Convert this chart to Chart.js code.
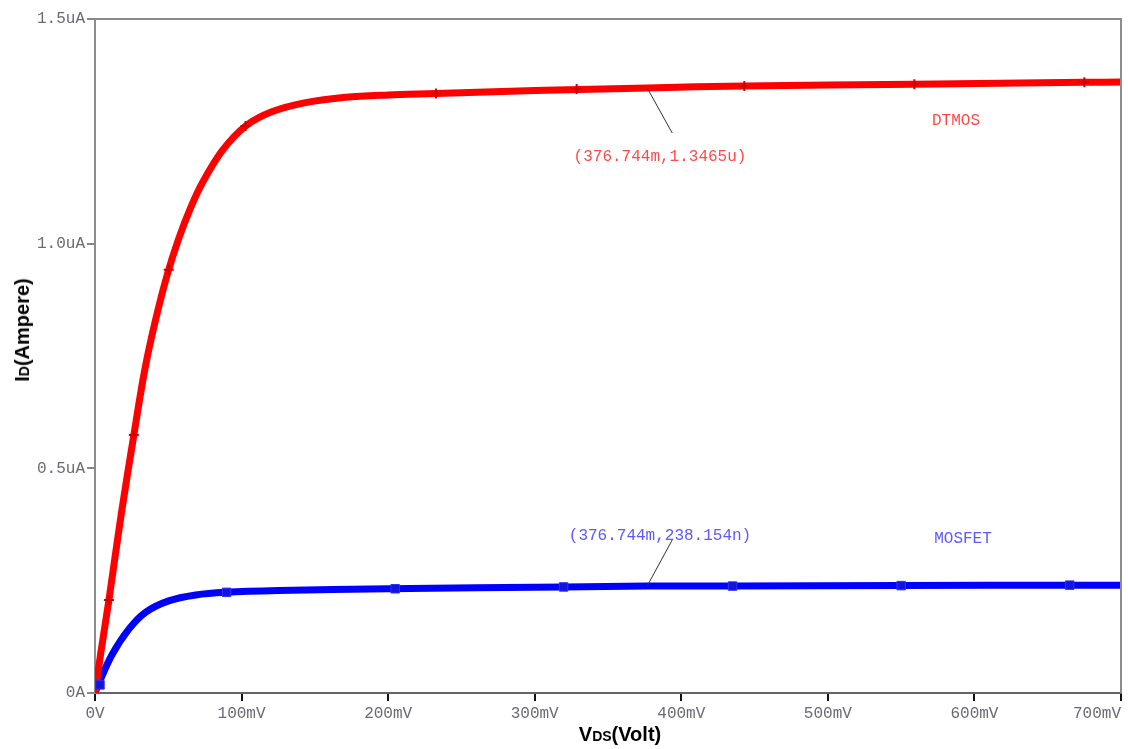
<!DOCTYPE html>
<html>
<head>
<meta charset="utf-8">
<script src="https://cdn.jsdelivr.net/npm/chart.js@4.4.0/dist/chart.umd.min.js"></script>
<style>
html,body{margin:0;padding:0;background:#fff;}
#wrap{position:relative;width:1128px;height:749px;overflow:hidden;background:#fff;}
#c{position:absolute;left:0;top:0;}
.ttl{position:absolute;font-family:"Liberation Sans",Arial,sans-serif;font-weight:bold;color:#000;white-space:nowrap;font-size:20px;line-height:1;}
.ttl span{font-size:14px;}
#ytitle{left:22px;top:330px;transform:translate(-50%,-50%) rotate(-90deg);}
#xtitle{left:620px;top:734px;transform:translate(-50%,-50%);}
</style>
</head>
<body>
<div id="wrap">
<canvas id="c" width="1128" height="749"></canvas>
<div class="ttl" id="ytitle">I<span>D</span>(Ampere)</div>
<div class="ttl" id="xtitle">V<span>DS</span>(Volt)</div>
</div>
<script>
// ---- data (V in mV, I in uA) ----
const dtmosV = [0, 4, 9.5, 18, 26.5, 34, 41.3, 49.2, 57, 65, 73.2, 86.8, 102.8, 121, 143.7, 171, 200, 232.7, 300, 376.744, 443, 559, 675, 700];
const dtmosI = [0, 0.09, 0.207, 0.40, 0.574, 0.72, 0.83, 0.93, 1.01, 1.078, 1.135, 1.207, 1.262, 1.294, 1.314, 1.326, 1.331, 1.334, 1.341, 1.3465, 1.351, 1.355, 1.359, 1.36];
const dtmosMarkV = [9.5, 26.5, 50.3, 102.7, 232.7, 328.6, 443, 559, 675];
const dtmosMarkI = [0.207, 0.574, 0.942, 1.262, 1.334, 1.344, 1.351, 1.355, 1.359];

const mosfetV = [0, 2.7, 11.6, 23.1, 34.7, 50.3, 68.7, 89.1, 125, 200, 320, 376.744, 435, 550, 665, 700];
const mosfetI = [0, 0.022, 0.085, 0.142, 0.180, 0.205, 0.218, 0.224, 0.228, 0.232, 0.236, 0.238, 0.238, 0.239, 0.240, 0.240];
const mosfetMarkV = [3.4, 89.8, 204.8, 319.7, 435, 550, 665];
const mosfetMarkI = [0.018, 0.224, 0.232, 0.236, 0.238, 0.239, 0.240];

const xTickValues = [0, 100, 200, 300, 400, 500, 600, 700];
const xTickLabels = ['0V', '100mV', '200mV', '300mV', '400mV', '500mV', '600mV', '700mV'];
const yTickValues = [0, 0.5, 1.0, 1.5];
const yTickLabels = ['0A', '0.5uA', '1.0uA', '1.5uA'];

const cursorV = [376.744, 376.744];
const cursorI = [1.3465, 0.238154];
const cursorText = ['(376.744m,1.3465u)', '(376.744m,238.154n)'];
const seriesNames = ['DTMOS', 'MOSFET'];

const pts = (xs, ys) => xs.map((x, i) => ({x: x, y: ys[i]}));

const RED = '#ff0000', BLUE = '#0000ff';
const MONO = '"Liberation Mono", "DejaVu Sans Mono", monospace';

const overlay = {
  id: 'overlay',
  beforeDraw(chart) {
    const c = chart.ctx;
    c.save(); c.fillStyle = '#fff'; c.fillRect(0, 0, chart.width, chart.height); c.restore();
  },
  afterDatasetsDraw(chart) {
    const c = chart.ctx, a = chart.chartArea;
    const xs = chart.scales.x, ys = chart.scales.y;
    c.save();
    // frame (top & right)
    c.strokeStyle = '#8c8c8c'; c.lineWidth = 2;
    c.beginPath();
    c.moveTo(a.left, a.top); c.lineTo(a.right, a.top); c.lineTo(a.right, a.bottom);
    c.stroke();
    // cursor leader lines and labels
    const offs = [[25, 45, 660, 157], [25, -46, 660, 536]];
    const cols = ['#ff4a4a', '#5a5aff'];
    c.font = '16px ' + MONO;
    c.textAlign = 'center'; c.textBaseline = 'middle';
    for (let i = 0; i < 2; i++) {
      const px = xs.getPixelForValue(cursorV[i]);
      const py = ys.getPixelForValue(cursorI[i]);
      c.strokeStyle = '#333'; c.lineWidth = 1;
      c.beginPath(); c.moveTo(px, py); c.lineTo(px + offs[i][0], py + offs[i][1]); c.stroke();
      c.fillStyle = cols[i];
      c.fillText(cursorText[i], offs[i][2], offs[i][3]);
    }
    // series names
    c.fillStyle = cols[0]; c.fillText(seriesNames[0], 956, 121);
    c.fillStyle = cols[1]; c.fillText(seriesNames[1], 963, 539);
    c.restore();
  }
};

new Chart(document.getElementById('c'), {
  type: 'scatter',
  data: {
    datasets: [
      {label: 'DTMOS markers', data: pts(dtmosMarkV, dtmosMarkI), showLine: false,
       pointStyle: 'cross', pointRadius: 5, borderColor: '#d00000', borderWidth: 2, order: 1},
      {label: 'MOSFET markers', data: pts(mosfetMarkV, mosfetMarkI), showLine: false,
       pointStyle: 'rect', pointRadius: 6, backgroundColor: '#1414d8', borderColor: '#3030ff', borderWidth: 1, order: 2},
      {label: 'DTMOS', data: pts(dtmosV, dtmosI), showLine: true, borderColor: RED, borderWidth: 7,
       pointRadius: 0, tension: 0.35, order: 3},
      {label: 'MOSFET', data: pts(mosfetV, mosfetI), showLine: true, borderColor: BLUE, borderWidth: 7,
       pointRadius: 0, tension: 0.35, order: 4}
    ]
  },
  options: {
    responsive: false,
    animation: false,
    layout: {padding: {top: 19, right: 7, left: 0, bottom: 0}},
    plugins: {legend: {display: false}, tooltip: {enabled: false}},
    scales: {
      x: {
        type: 'linear', min: 0, max: 700,
        afterBuildTicks(s) { s.ticks = xTickValues.map(v => ({value: v})); },
        afterFit(s) { s.height = 56; s.paddingLeft = 0; s.paddingRight = 0; },
        ticks: {
          padding: 3, color: '#6a6a72', font: {family: MONO, size: 16}, maxRotation: 0,
          callback(v, i) {
            const k = xTickValues.indexOf(v);
            const t = k >= 0 ? xTickLabels[k] : '';
            return k === xTickValues.length - 1 ? t + '     ' : t;
          }
        },
        grid: {drawOnChartArea: false, drawTicks: true, tickLength: 8, color: '#111', lineWidth: 2},
        border: {color: '#666', width: 2}
      },
      y: {
        type: 'linear', min: 0, max: 1.5,
        afterBuildTicks(s) { s.ticks = yTickValues.map(v => ({value: v})); },
        afterFit(s) { s.width = 95; s.paddingTop = 0; s.paddingBottom = 0; },
        ticks: {
          padding: 2, color: '#6a6a72', font: {family: MONO, size: 16},
          callback(v) { const k = yTickValues.indexOf(v); return k >= 0 ? yTickLabels[k] : ''; }
        },
        grid: {drawOnChartArea: false, drawTicks: true, tickLength: 8, color: '#888', lineWidth: 2},
        border: {color: '#8c8c8c', width: 2}
      }
    }
  },
  plugins: [overlay]
});
</script>
</body>
</html>
